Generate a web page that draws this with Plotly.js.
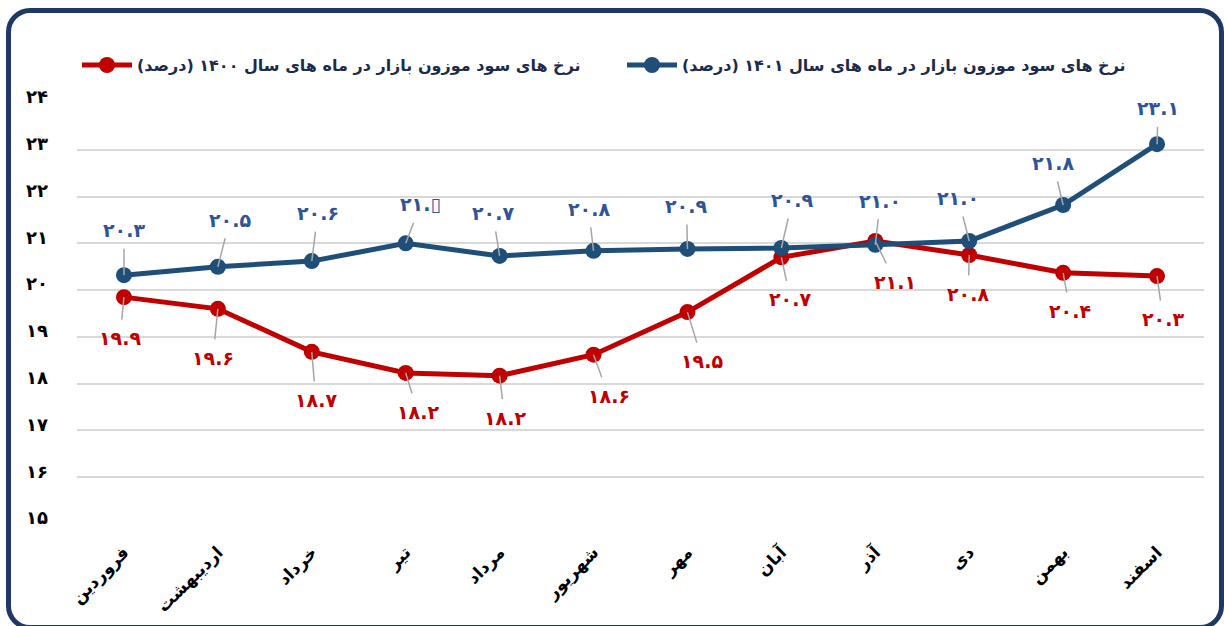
<!DOCTYPE html>
<html>
<head>
<meta charset="utf-8">
<script src="https://cdn.plot.ly/plotly-3.0.1.min.js"></script>
<style>
  html, body { margin: 0; padding: 0; background: #ffffff; overflow: hidden; }
  #wrap { position: relative; width: 1224px; height: 626px; }
  #chart { position: absolute; left: 0; top: 0; width: 1224px; height: 626px; }
  #frame { position: absolute; left: 6px; top: 8px; width: 1208px; height: 612px;
           border: 5px solid #1F3864; border-radius: 24px; pointer-events: none; }
</style>
</head>
<body>
<div id="wrap">
  <div id="chart"></div>
  <div id="frame"></div>
</div>
<script>
// ---- data ----
const months = ['فروردین','اردیبهشت','خرداد','تیر','مرداد','شهریور','مهر','آبان','آذر','دی','بهمن','اسفند'];
const rate1400 = [19.85, 19.6, 18.68, 18.23, 18.17, 18.62, 19.53, 20.7, 21.05, 20.75, 20.37, 20.3];
const rate1401 = [20.32, 20.5, 20.62, 21.0, 20.73, 20.84, 20.88, 20.9, 20.97, 21.05, 21.82, 23.12];
const labels1400 = ['۱۹.۹','۱۹.۶','۱۸.۷','۱۸.۲','۱۸.۲','۱۸.۶','۱۹.۵','۲۰.۷','۲۱.۱','۲۰.۸','۲۰.۴','۲۰.۳'];
const labels1401 = ['۲۰.۳','۲۰.۵','۲۰.۶','۲۱.▯','۲۰.۷','۲۰.۸','۲۰.۹','۲۰.۹','۲۱.۰','۲۱.۰','۲۱.۸','۲۳.۱'];
const yTickVals = [15, 16, 17, 18, 19, 20, 21, 22, 23, 24];
const yTickText = ['۱۵','۱۶','۱۷','۱۸','۱۹','۲۰','۲۱','۲۲','۲۳','۲۴'];
const name1400 = 'نرخ های سود موزون بازار در ماه های سال ۱۴۰۰ (درصد)';
const name1401 = 'نرخ های سود موزون بازار در ماه های سال ۱۴۰۱ (درصد)';

// ---- label placement (style) ----
const off1400 = [[-4,41],[-5,49],[4,48],[12,39],[5,42],[15,41],[15,49],[9,42],[20,41],[-1,39],[7,38],[6,43]];
const off1401 = [[0,-45],[12,-47],[6,-48],[15,-39],[-7,-43],[-5,-42],[-1,-43],[11,-48],[5,-44],[-11,-43],[-10,-42],[1,-36]];

const RED = '#C00000', BLUE = '#1F4E79', BLUE_TXT = '#2F5597', FONT = 'DejaVu Sans, Noto Sans, sans-serif';

const traces = [
  { x: months, y: rate1400, type: 'scatter', mode: 'lines+markers', name: name1400,
    line: { color: RED, width: 5 }, marker: { color: RED, size: 16 } },
  { x: months, y: rate1401, type: 'scatter', mode: 'lines+markers', name: name1401,
    line: { color: BLUE, width: 5 }, marker: { color: BLUE, size: 16 } }
];

function mkAnn(vals, texts, offs, color) {
  return vals.map((v, i) => ({
    x: months[i], y: v, xref: 'x', yref: 'y', text: texts[i],
    showarrow: true, arrowhead: 0, arrowwidth: 1.5, arrowcolor: '#A6A6A6',
    ax: offs[i][0], ay: offs[i][1], standoff: 0, borderpad: 7,
    font: { family: FONT, size: 19, color: color, weight: 'bold' }
  }));
}

const layout = {
  width: 1224, height: 626,
  margin: { l: 77, r: 20, t: 103, b: 102 },
  paper_bgcolor: '#ffffff', plot_bgcolor: '#ffffff',
  showlegend: true,
  legend: { orientation: 'h', x: 0.0, xanchor: 'left', y: 1.09, yanchor: 'middle',
            font: { family: FONT, size: 16, color: '#1C2B4A', weight: 'bold' },
            itemwidth: 50, traceorder: 'normal', entrywidth: 480 },
  xaxis: { type: 'category', range: [-0.5, 11.5], showgrid: false, zeroline: false,
           showline: false, ticks: '', tickangle: -45, ticklabelstandoff: 14,
           tickfont: { family: FONT, size: 17, color: '#000000', weight: 'bold' } },
  yaxis: { range: [15, 24], tickvals: yTickVals, ticktext: yTickText, showgrid: true,
           gridcolor: '#D9D9D9', gridwidth: 2, zeroline: false, showline: false, ticks: '',
           ticklabelstandoff: 28, ticklabelshift: -6,
           tickfont: { family: FONT, size: 18, color: '#000000', weight: 'bold' } },
  annotations: mkAnn(rate1400, labels1400, off1400, RED).concat(mkAnn(rate1401, labels1401, off1401, BLUE_TXT))
};

Plotly.newPlot('chart', traces, layout, { displayModeBar: false, staticPlot: true });
</script>
</body>
</html>
